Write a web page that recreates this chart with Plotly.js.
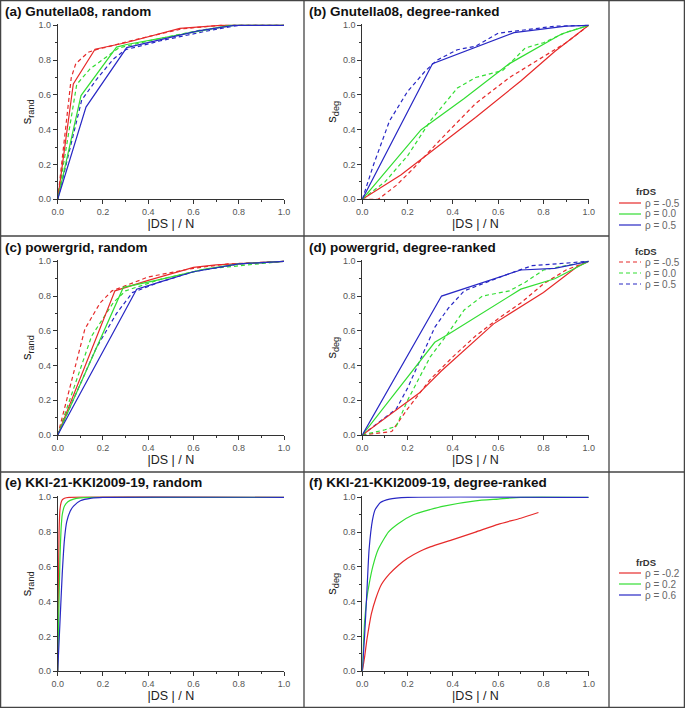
<!DOCTYPE html>
<html>
<head>
<meta charset="utf-8">
<script src="https://cdn.plot.ly/plotly-3.0.1.min.js"></script>
<style>html,body{margin:0;padding:0;background:#fff;}#chart{width:685px;height:708px;}</style>
</head>
<body>
<div id="chart"></div>
<script>
// ---------- data ----------
const panelTitles = ['(a) Gnutella08, random', '(b) Gnutella08, degree-ranked',
  '(c) powergrid, random', '(d) powergrid, degree-ranked',
  '(e) KKI-21-KKI2009-19, random', '(f) KKI-21-KKI2009-19, degree-ranked'];
const yTitles = ['s<sub>rand</sub>', 's<sub>deg</sub>', 's<sub>rand</sub>', 's<sub>deg</sub>', 's<sub>rand</sub>', 's<sub>deg</sub>'];
const xTitle = '|DS | / N';
const tickVals = [0, 0.2, 0.4, 0.6, 0.8, 1.0];
const tickText = ['0.0', '0.2', '0.4', '0.6', '0.8', '1.0'];
const legendTopLabels = ['ρ = -0.5', 'ρ = 0.0', 'ρ = 0.5'];
const legendBottomLabels = ['ρ = -0.2', 'ρ = 0.2', 'ρ = 0.6'];

// (a) Gnutella08, random
const a_fr_neg_x = [0, 0.069, 0.165, 0.30, 0.54, 0.72, 1.0];
const a_fr_neg_y = [0, 0.663, 0.863, 0.90, 0.983, 1.0, 1.0];
const a_fr_zero_x = [0, 0.103, 0.26, 0.305, 0.62, 0.76, 1.0];
const a_fr_zero_y = [0, 0.596, 0.875, 0.89, 0.965, 1.0, 1.0];
const a_fr_pos_x = [0, 0.125, 0.305, 0.62, 0.78, 1.0];
const a_fr_pos_y = [0, 0.53, 0.872, 0.968, 1.0, 1.0];
const a_fc_neg_x = [0, 0.06, 0.08, 0.135, 0.17, 0.35, 0.55, 0.72, 1.0];
const a_fc_neg_y = [0, 0.70, 0.78, 0.845, 0.86, 0.92, 0.98, 1.0, 1.0];
const a_fc_zero_x = [0, 0.084, 0.143, 0.23, 0.27, 0.40, 0.62, 0.78, 1.0];
const a_fc_zero_y = [0, 0.66, 0.75, 0.834, 0.87, 0.91, 0.97, 1.0, 1.0];
const a_fc_pos_x = [0, 0.106, 0.172, 0.246, 0.30, 0.45, 0.65, 0.80, 1.0];
const a_fc_pos_y = [0, 0.57, 0.69, 0.806, 0.86, 0.91, 0.965, 1.0, 1.0];

// (b) Gnutella08, degree-ranked
const b_fr_neg_x = [0, 0.17, 0.5, 0.7, 0.85, 1.0];
const b_fr_neg_y = [0, 0.14, 0.47, 0.68, 0.85, 1.0];
const b_fr_zero_x = [0, 0.26, 0.45, 0.65, 0.88, 1.0];
const b_fr_zero_y = [0, 0.40, 0.58, 0.78, 0.95, 1.0];
const b_fr_pos_x = [0, 0.31, 0.67, 0.9, 1.0];
const b_fr_pos_y = [0, 0.78, 0.958, 0.995, 1.0];
const b_fc_neg_x = [0, 0.07, 0.15, 0.22, 0.35, 0.5, 0.65, 0.8, 0.9, 1.0];
const b_fc_neg_y = [0, 0.0, 0.08, 0.17, 0.35, 0.55, 0.70, 0.82, 0.9, 1.0];
const b_fc_zero_x = [0, 0.1, 0.2, 0.3, 0.42, 0.5, 0.62, 0.72, 0.8, 0.9, 1.0];
const b_fc_zero_y = [0, 0.1, 0.25, 0.45, 0.64, 0.70, 0.74, 0.87, 0.90, 0.96, 1.0];
const b_fc_pos_x = [0, 0.05, 0.12, 0.2, 0.28, 0.33, 0.42, 0.5, 0.6, 0.7, 0.85, 1.0];
const b_fc_pos_y = [0, 0.2, 0.45, 0.62, 0.74, 0.80, 0.86, 0.88, 0.955, 0.97, 0.995, 1.0];

// (c) powergrid, random
const c_fr_neg_x = [0, 0.253, 0.40, 0.6, 0.7, 1.0];
const c_fr_neg_y = [0, 0.83, 0.89, 0.965, 0.98, 1.0];
const c_fr_zero_x = [0, 0.29, 0.45, 0.65, 0.8, 1.0];
const c_fr_zero_y = [0, 0.85, 0.895, 0.955, 0.985, 1.0];
const c_fr_pos_x = [0, 0.349, 0.45, 0.6, 0.8, 1.0];
const c_fr_pos_y = [0, 0.84, 0.88, 0.94, 0.985, 1.0];
const c_fc_neg_x = [0, 0.06, 0.12, 0.187, 0.24, 0.4, 0.6, 0.75, 1.0];
const c_fc_neg_y = [0, 0.3, 0.61, 0.76, 0.83, 0.91, 0.96, 0.985, 1.0];
const c_fc_zero_x = [0, 0.15, 0.246, 0.30, 0.45, 0.65, 1.0];
const c_fc_zero_y = [0, 0.57, 0.763, 0.83, 0.895, 0.955, 1.0];
const c_fc_pos_x = [0, 0.17, 0.26, 0.33, 0.45, 0.6, 0.8, 1.0];
const c_fc_pos_y = [0, 0.5, 0.7, 0.82, 0.88, 0.94, 0.985, 1.0];

// (d) powergrid, degree-ranked
const d_fr_neg_x = [0, 0.25, 0.35, 0.58, 0.8, 0.95, 1.0];
const d_fr_neg_y = [0, 0.24, 0.37, 0.64, 0.82, 0.97, 1.0];
const d_fr_zero_x = [0, 0.32, 0.38, 0.55, 0.7, 0.85, 1.0];
const d_fr_zero_y = [0, 0.534, 0.58, 0.72, 0.84, 0.9, 1.0];
const d_fr_pos_x = [0, 0.35, 0.70, 0.85, 1.0];
const d_fr_pos_y = [0, 0.80, 0.95, 0.96, 1.0];
const d_fc_neg_x = [0, 0.13, 0.2, 0.3, 0.4, 0.5, 0.6, 0.7, 0.8, 0.9, 1.0];
const d_fc_neg_y = [0, 0.02, 0.15, 0.32, 0.45, 0.57, 0.67, 0.76, 0.87, 0.95, 1.0];
const d_fc_zero_x = [0, 0.1, 0.15, 0.2, 0.3, 0.37, 0.45, 0.53, 0.65, 0.72, 0.8, 1.0];
const d_fc_zero_y = [0, 0.03, 0.05, 0.2, 0.45, 0.57, 0.72, 0.80, 0.83, 0.88, 0.95, 1.0];
const d_fc_pos_x = [0, 0.1, 0.15, 0.2, 0.26, 0.32, 0.38, 0.45, 0.55, 0.65, 0.75, 1.0];
const d_fc_pos_y = [0, 0.1, 0.15, 0.27, 0.45, 0.62, 0.73, 0.83, 0.88, 0.93, 0.975, 1.0];

// (e) KKI-21-KKI2009-19, random
const e_neg_x = [0, 0.003, 0.006, 0.01, 0.015, 0.02, 0.03, 0.05, 1.0];
const e_neg_y = [0, 0.45, 0.8, 0.93, 0.97, 0.985, 0.995, 1.0, 1.0];
const e_zero_x = [0, 0.005, 0.01, 0.015, 0.02, 0.03, 0.045, 0.07, 0.1, 0.15, 1.0];
const e_zero_y = [0, 0.35, 0.65, 0.82, 0.9, 0.95, 0.975, 0.99, 0.997, 1.0, 1.0];
const e_pos_x = [0, 0.01, 0.02, 0.03, 0.04, 0.055, 0.07, 0.1, 0.15, 0.2, 1.0];
const e_pos_y = [0, 0.28, 0.56, 0.76, 0.86, 0.92, 0.95, 0.98, 0.995, 1.0, 1.0];

// (f) KKI-21-KKI2009-19, degree-ranked
const f_neg_x = [0, 0.01, 0.02, 0.03, 0.04, 0.06, 0.085, 0.12, 0.16, 0.2, 0.255, 0.3, 0.4, 0.5, 0.6, 0.7, 0.778];
const f_neg_y = [0, 0.08, 0.18, 0.26, 0.33, 0.42, 0.50, 0.56, 0.61, 0.65, 0.69, 0.715, 0.757, 0.80, 0.845, 0.88, 0.913];
const f_zero_x = [0, 0.005, 0.01, 0.02, 0.03, 0.046, 0.07, 0.115, 0.16, 0.225, 0.3, 0.36, 0.5, 0.6, 0.7, 1.0];
const f_zero_y = [0, 0.15, 0.28, 0.42, 0.5, 0.6, 0.7, 0.8, 0.85, 0.9, 0.93, 0.95, 0.98, 0.99, 1.0, 1.0];
const f_pos_x = [0, 0.01, 0.02, 0.03, 0.045, 0.057, 0.08, 0.12, 0.2, 1.0];
const f_pos_y = [0, 0.2, 0.45, 0.7, 0.87, 0.93, 0.97, 0.99, 1.0, 1.0];

// ---------- styles ----------
const W = 685, H = 708;
const FONT = '"Liberation Sans", Arial, Helvetica, sans-serif';
const RED = '#e62a2a', GREEN = '#33dd33', BLUE = '#2828c4';
const DASH = '4px,3px';
const colors3 = [RED, GREEN, BLUE];

// pixel geometry of the axes boxes
const colX = [[57.7, 284], [362.3, 588.7]];
const rowY = [[24.3, 199.3], [260.3, 435], [496.3, 671.3]];
const px = v => v / W;
const py = v => 1 - v / H;

const panels = [
  {fr: [[a_fr_neg_x, a_fr_neg_y], [a_fr_zero_x, a_fr_zero_y], [a_fr_pos_x, a_fr_pos_y]],
   fc: [[a_fc_neg_x, a_fc_neg_y], [a_fc_zero_x, a_fc_zero_y], [a_fc_pos_x, a_fc_pos_y]], smooth: false},
  {fr: [[b_fr_neg_x, b_fr_neg_y], [b_fr_zero_x, b_fr_zero_y], [b_fr_pos_x, b_fr_pos_y]],
   fc: [[b_fc_neg_x, b_fc_neg_y], [b_fc_zero_x, b_fc_zero_y], [b_fc_pos_x, b_fc_pos_y]], smooth: false},
  {fr: [[c_fr_neg_x, c_fr_neg_y], [c_fr_zero_x, c_fr_zero_y], [c_fr_pos_x, c_fr_pos_y]],
   fc: [[c_fc_neg_x, c_fc_neg_y], [c_fc_zero_x, c_fc_zero_y], [c_fc_pos_x, c_fc_pos_y]], smooth: false},
  {fr: [[d_fr_neg_x, d_fr_neg_y], [d_fr_zero_x, d_fr_zero_y], [d_fr_pos_x, d_fr_pos_y]],
   fc: [[d_fc_neg_x, d_fc_neg_y], [d_fc_zero_x, d_fc_zero_y], [d_fc_pos_x, d_fc_pos_y]], smooth: false},
  {fr: [[e_neg_x, e_neg_y], [e_zero_x, e_zero_y], [e_pos_x, e_pos_y]], fc: [], smooth: true},
  {fr: [[f_neg_x, f_neg_y], [f_zero_x, f_zero_y], [f_pos_x, f_pos_y]], fc: [], smooth: true}
];

const traces = [];
const layout = {
  width: W, height: H,
  margin: {l: 0, r: 0, t: 0, b: 0},
  paper_bgcolor: '#ffffff', plot_bgcolor: '#ffffff',
  font: {family: FONT, color: '#222'},
  showlegend: false,
  shapes: [], annotations: []
};

panels.forEach((p, i) => {
  const n = i + 1;
  const xa = 'x' + (n === 1 ? '' : n), ya = 'y' + (n === 1 ? '' : n);
  const col = i % 2, row = Math.floor(i / 2);
  const addSeries = (list, dash) => list.forEach((s, k) => {
    traces.push({x: s[0], y: s[1], type: 'scatter', mode: 'lines', xaxis: xa, yaxis: ya,
      line: {color: colors3[k], width: 1.2, dash: dash,
             shape: p.smooth ? 'spline' : 'linear', smoothing: 0.5}, hoverinfo: 'skip'});
  });
  addSeries(p.fc, DASH);
  addSeries(p.fr, 'solid');
  const axBase = {
    showline: true, linecolor: '#333', linewidth: 1,
    ticks: 'outside', ticklen: 4, tickcolor: '#333', tickwidth: 1,
    tickvals: tickVals, ticktext: tickText,
    tickfont: {size: 9, color: '#555', family: FONT},
    minor: {ticks: 'outside', ticklen: 2, tickcolor: '#333', dtick: 0.1, tick0: 0},
    showgrid: false, zeroline: false, fixedrange: true
  };
  layout['xaxis' + (n === 1 ? '' : n)] = Object.assign({}, axBase, {
    domain: [px(colX[col][0]), px(colX[col][1])], anchor: ya, range: [0, 1.0],
    title: {text: xTitle, font: {size: 12.5, color: '#222'}, standoff: 0}
  });
  layout['yaxis' + (n === 1 ? '' : n)] = Object.assign({}, axBase, {
    domain: [py(rowY[row][1]), py(rowY[row][0])], anchor: xa, range: [0, 1.006],
    title: {text: yTitles[i], font: {size: 13, color: '#222'}, standoff: 3}
  });
  layout.annotations.push({
    text: '<b>' + panelTitles[i] + '</b>', xref: 'paper', yref: 'paper',
    x: px(col === 0 ? 3 : 307), y: py(row === 0 ? 12 : row === 1 ? 247 : 483),
    xanchor: 'left', yanchor: 'middle', showarrow: false,
    font: {size: 13.5, color: '#111', family: FONT}
  });
});

// frame lines
const frame = {color: '#444', width: 1.3};
const ln = (x0, y0, x1, y1) => ({type: 'line', xref: 'paper', yref: 'paper',
  x0: px(x0), y0: py(y0), x1: px(x1), y1: py(y1), line: frame});
layout.shapes.push(ln(0.6, 0, 0.6, H), ln(W - 0.6, 0, W - 0.6, H), ln(0, 0.6, W, 0.6), ln(0, H - 0.6, W, H - 0.6));
layout.shapes.push(ln(304, 0, 304, H), ln(609, 0, 609, H), ln(0, 236, 609, 236), ln(0, 472, W, 472));

// legends
function addLegend(header, labels, dash, yHead) {
  layout.annotations.push({text: '<b>' + header + '</b>', xref: 'paper', yref: 'paper',
    x: px(646), y: py(yHead), xanchor: 'center', yanchor: 'middle', showarrow: false,
    font: {size: 9.5, color: '#333', family: FONT}});
  labels.forEach((lab, k) => {
    const yy = yHead + 11 * (k + 1);
    layout.shapes.push({type: 'line', xref: 'paper', yref: 'paper',
      x0: px(619), x1: px(641), y0: py(yy), y1: py(yy),
      line: {color: colors3[k], width: 1.2, dash: dash}});
    layout.annotations.push({text: lab, xref: 'paper', yref: 'paper',
      x: px(643), y: py(yy), xanchor: 'left', yanchor: 'middle', showarrow: false,
      font: {size: 10, color: '#666', family: FONT}});
  });
}
addLegend('frDS', legendTopLabels, 'solid', 192);
addLegend('fcDS', legendTopLabels, DASH, 251);
addLegend('frDS', legendBottomLabels, 'solid', 562);

Plotly.newPlot('chart', traces, layout, {displayModeBar: false, staticPlot: true});
</script>
</body>
</html>
